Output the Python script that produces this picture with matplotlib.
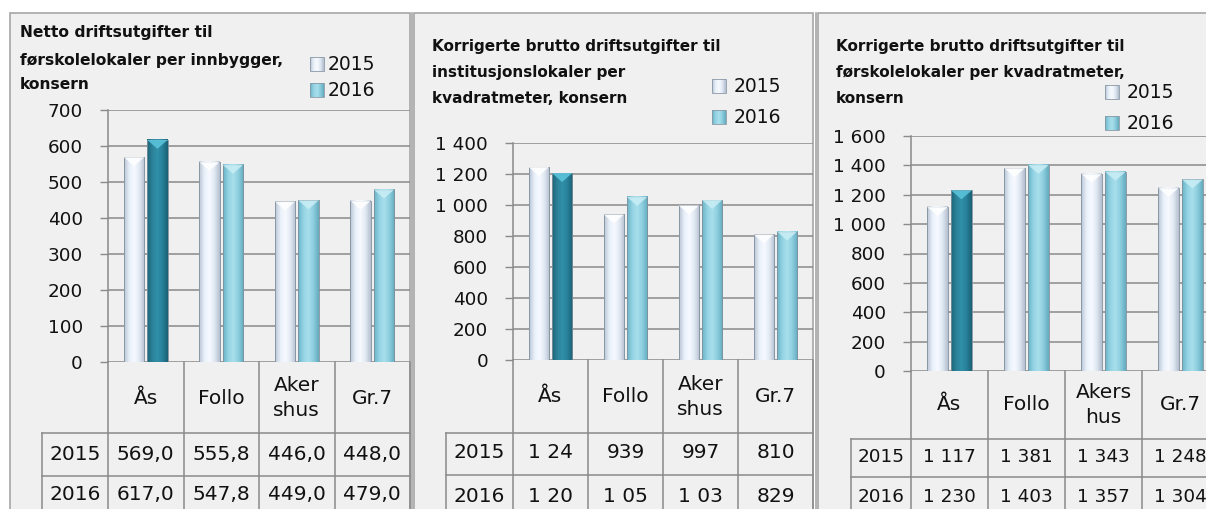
import numpy as np
import matplotlib.pyplot as plt
from matplotlib.colors import LinearSegmentedColormap
from matplotlib.patches import Polygon, Rectangle

plt.rcParams['font.family'] = ['DejaVu Sans']

years = ["2015", "2016"]

# Netto driftsutgifter til førskolelokaler per innbygger
cat_netto = ["Ås", "Follo", "Aker\nshus", "Gr.7"]
netto_2015 = [569.0, 555.8, 446.0, 448.0]
netto_2016 = [617.0, 547.8, 449.0, 479.0]

# Korrigerte brutto driftsutgifter til institusjonslokaler per m2
cat_inst = ["Ås", "Follo", "Aker\nshus", "Gr.7"]
inst_2015 = [1245, 939, 997, 810]
inst_2016 = [1206, 1052, 1032, 829]

# Korrigerte brutto driftsutgifter til førskolelokaler per m2
cat_fsk = ["Ås", "Follo", "Akers\nhus", "Gr.7"]
fsk_2015 = [1117, 1381, 1343, 1248]
fsk_2016 = [1230, 1403, 1357, 1304]

W, H = 1206, 509
BG = '#f0f0f0'
GRID = '#8a8a8a'
FRAME = '#a6a6a6'
TXT = '#111111'

grad_2015 = LinearSegmentedColormap.from_list(
    'g15', ['#b9c3d3', '#e8f0f9', '#f7faff', '#e0e8f2', '#b4bfcf'])
grad_2016 = LinearSegmentedColormap.from_list(
    'g16', ['#6ab3c7', '#94d3e3', '#a9dfec', '#8bcddd', '#64abbf'])
grad_aas = LinearSegmentedColormap.from_list(
    'gaa', ['#1c6477', '#2b8299', '#3190a8', '#28809a', '#1a6073'])
cap_colors = {'g15': '#ffffff', 'g16': '#c9eef6', 'gaa': '#5cc6dd'}


def fmt_space(v):
    return f"{int(round(v)):,}".replace(",", " ")


def fmt_comma(v):
    return f"{v:.1f}".replace(".", ",")


def fmt_narrow(v):
    # the cell is too narrow for five characters
    return fmt_space(v)[:4]


panels = [
    dict(title=["Netto driftsutgifter til", "førskolelokaler per innbygger,", "konsern"],
         title_x=20, title_y=[37, 65, 89], title_size=11.2,
         cats=cat_netto, s15=netto_2015, s16=netto_2016, ymax=700, step=100,
         fmt=fmt_comma, tick_fmt=fmt_space, table_size=14.5,
         plot=(108, 110, 410, 362), rows=(433, 476), label_x0=42,
         head_y=398, row_y=(455, 495),
         legend=(310, 328, (64, 90)),
         frame=(10, 13, 410)),
    dict(title=["Korrigerte brutto driftsutgifter til", "institusjonslokaler per",
                "kvadratmeter, konsern"],
         title_x=432, title_y=[51, 77, 103], title_size=11,
         cats=cat_inst, s15=inst_2015, s16=inst_2016, ymax=1400, step=200,
         fmt=lambda v: fmt_narrow(v) if v >= 1000 else fmt_space(v),
         tick_fmt=fmt_space, table_size=14.5,
         plot=(513, 143, 813, 360), rows=(433, 475), label_x0=446,
         head_y=397, row_y=(453, 497),
         legend=(712, 734, (86, 117)),
         frame=(414, 13, 813)),
    dict(title=["Korrigerte brutto driftsutgifter til", "førskolelokaler per kvadratmeter,",
                "konsern"],
         title_x=836, title_y=[51, 77, 103], title_size=11,
         cats=cat_fsk, s15=fsk_2015, s16=fsk_2016, ymax=1600, step=200,
         fmt=fmt_space, tick_fmt=fmt_space, table_size=13.2,
         plot=(911, 136, 1219, 371), rows=(439, 477), label_x0=851,
         head_y=405, row_y=(457, 497),
         legend=(1105, 1127, (92, 123)),
         frame=(818, 13, 1230)),
]

fig = plt.figure(figsize=(W / 100, H / 100), dpi=100, facecolor='white')
base = fig.add_axes([0, 0, 1, 1])
base.set_xlim(0, W)
base.set_ylim(H, 0)
base.axis('off')


def draw_bar(ax, x0, width, height, cmap, ymax, px_h):
    grad = np.linspace(0, 1, 64).reshape(1, -1)
    ax.imshow(grad, extent=[x0, x0 + width, 0, height], aspect='auto',
              cmap=cmap, zorder=3, interpolation='bicubic')
    ax.add_patch(Rectangle((x0, 0), width, height, fill=False,
                           edgecolor='#7f8f9c', lw=0.6, zorder=4))
    dh = 9 * ymax / px_h
    cap = Polygon([(x0, height), (x0 + width, height),
                   (x0 + width / 2, height - dh)], closed=True,
                  facecolor=cap_colors[cmap.name], edgecolor='none',
                  alpha=0.85, zorder=4)
    ax.add_patch(cap)


for p in panels:
    fx0, fy0, fx1 = p['frame']
    base.add_patch(Rectangle((fx0, fy0), fx1 - fx0, H - fy0 + 5,
                             facecolor=BG, edgecolor=FRAME, lw=1.2, zorder=0))

    # title and legend
    for line, y in zip(p['title'], p['title_y']):
        base.text(p['title_x'], y, line, fontsize=p['title_size'],
                  fontweight='bold', va='baseline', ha='left', color=TXT)
    sq_x, txt_x, leg_y = p['legend']
    for yr, ly, cm in zip(years, leg_y, [grad_2015, grad_2016]):
        g = np.linspace(0, 1, 32).reshape(1, -1)
        base.imshow(g, extent=[sq_x, sq_x + 14, ly + 7, ly - 7], cmap=cm,
                    aspect='auto', zorder=2)
        base.add_patch(Rectangle((sq_x, ly - 7), 14, 14, fill=False,
                                 edgecolor='#8a99a6', lw=0.6, zorder=3))
        base.text(txt_x, ly, yr, fontsize=13.5, va='center', ha='left',
                  color=TXT)

    # bar chart area
    px0, py0, px1, py1 = p['plot']
    ax = fig.add_axes([px0 / W, 1 - py1 / H, (px1 - px0) / W, (py1 - py0) / H])
    ax.set_facecolor('none')
    ncat = len(p['cats'])
    ax.set_xlim(0, ncat)
    ax.set_ylim(0, p['ymax'])
    ticks = np.arange(0, p['ymax'] + 1, p['step'])
    ax.set_yticks(ticks)
    ax.set_yticklabels([p['tick_fmt'](t) for t in ticks], fontsize=13.2,
                       color=TXT)
    ax.set_xticks([])
    ax.tick_params(axis='y', length=6, width=1, color=GRID, pad=12)
    for t in ticks:
        ax.axhline(t, color=GRID, lw=1.1, zorder=1)
    for s in ['top', 'right', 'bottom']:
        ax.spines[s].set_visible(False)
    ax.spines['left'].set_color(GRID)
    ax.spines['left'].set_linewidth(1.1)

    px_h = py1 - py0
    bw = 0.27
    for i in range(ncat):
        draw_bar(ax, i + 0.5 - 0.02 - bw, bw, p['s15'][i], grad_2015,
                 p['ymax'], px_h)
        draw_bar(ax, i + 0.52, bw, p['s16'][i],
                 grad_aas if i == 0 else grad_2016, p['ymax'], px_h)

    # data table below the chart
    col_w = (px1 - px0) / ncat
    r1, r2 = p['rows']
    lx0 = p['label_x0']
    fs = p['table_size']
    for i in range(ncat + 1):
        base.plot([px0 + i * col_w] * 2, [py1, H + 2], color=GRID, lw=1.1,
                  zorder=1)
    base.plot([lx0, lx0], [r1, H + 2], color=GRID, lw=1.1, zorder=1)
    base.plot([lx0, px1], [r1, r1], color=GRID, lw=1.1, zorder=1)
    base.plot([lx0, px1], [r2, r2], color=GRID, lw=1.1, zorder=1)
    for i, c in enumerate(p['cats']):
        cx = px0 + (i + 0.5) * col_w
        base.text(cx, p['head_y'], c, fontsize=14.5, ha='center', va='center',
                  linespacing=1.4, color=TXT)
        for series, ry in zip([p['s15'], p['s16']], p['row_y']):
            base.text(cx, ry, p['fmt'](series[i]), fontsize=fs, ha='center',
                      va='center', color=TXT)
    for yr, ry in zip(years, p['row_y']):
        base.text((lx0 + px0) / 2, ry, yr, fontsize=fs, ha='center',
                  va='center', color=TXT)

# double border between the panels
base.plot([411.5, 411.5], [13, H + 2], color=FRAME, lw=1.2, zorder=1)
base.plot([816, 816], [13, H + 2], color=FRAME, lw=1.2, zorder=1)

fig.savefig('out.png', dpi=100, facecolor='white')
